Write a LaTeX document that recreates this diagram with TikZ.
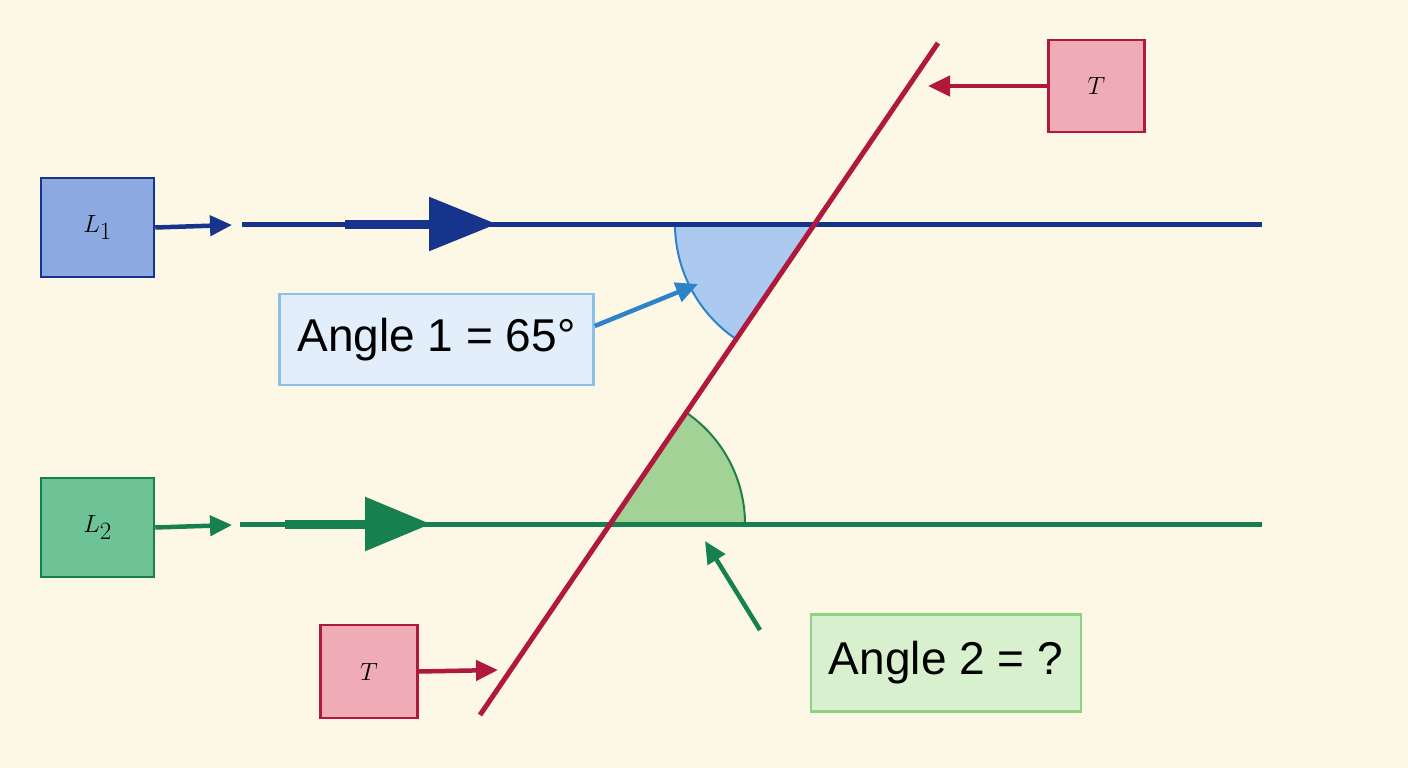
\documentclass[tikz,border=0pt]{standalone}
\usepackage{fontspec}
\setmainfont{Liberation Sans}
\usetikzlibrary{arrows.meta}
\definecolor{bgcream}{RGB}{253,248,230}
\definecolor{lineblue}{RGB}{22,52,140}
\definecolor{linegreen}{RGB}{22,128,78}
\definecolor{transred}{RGB}{176,24,62}
\definecolor{boxblue}{RGB}{140,170,225}
\definecolor{boxgreen}{RGB}{110,195,150}
\definecolor{boxpink}{RGB}{240,172,182}
\definecolor{angblue}{RGB}{172,202,240}
\definecolor{angblueedge}{RGB}{45,130,200}
\definecolor{anggreen}{RGB}{162,210,150}
\definecolor{anggreenedge}{RGB}{30,130,70}
\definecolor{lblblue}{RGB}{226,238,250}
\definecolor{lblblueedge}{RGB}{140,192,232}
\definecolor{lblgreen}{RGB}{216,240,206}
\definecolor{lblgreenedge}{RGB}{140,210,130}
\tikzset{every picture/.style={line width=0.75pt},
  tagbox/.style={draw, line width=2.5pt, minimum width=113pt, minimum height=99pt, inner sep=0pt, font=\fontsize{50}{50}\selectfont},
  lblbox/.style={draw, line width=2.5pt, inner xsep=18pt, minimum height=91pt, font=\fontsize{46}{46}\selectfont},
  ptr/.style={line width=4.5pt, -{Triangle[length=22pt,width=20pt]}}}
\begin{document}
\begin{tikzpicture}[x=1pt,y=1pt,yscale=-1,xscale=1]
\fill[bgcream] (0,0) rectangle (1408,768);

%Shape: Sectors
\filldraw[fill=angblue, draw=angblueedge, line width=2pt] (814,224) -- (675,224) arc[start angle=180, end angle=124.3, radius=139] -- cycle;
\filldraw[fill=anggreen, draw=anggreenedge, line width=2pt] (610,524) -- (745,524) arc[start angle=0, end angle=-55.7, radius=135] -- cycle;
\fill[angblue] (814,224) -- (677,226) -- (740,330) -- cycle;
\fill[anggreen] (610,524) -- (743,522) -- (686,412) -- cycle;

%Parallel lines
\coordinate (l1a) at (242,224); \coordinate (l1b) at (1262,224);
\coordinate (l2a) at (240,524); \coordinate (l2b) at (1262,524);
\draw[lineblue, line width=5pt] (l1a) -- (l1b);
\draw[lineblue, line width=9pt, -{Triangle[length=68pt,width=52pt]}] (345,224) -- (497,224);
\draw[linegreen, line width=5pt] (l2a) -- (l2b);
\draw[linegreen, line width=9pt, -{Triangle[length=66pt,width=52pt]}] (285,524) -- (431,524);

%Transversal
\coordinate (ta) at (480,715); \coordinate (tb) at (938,43);
\draw[transred, line width=5pt] (ta) -- (tb);

%Boxes
\node[tagbox, fill=boxblue, draw=lineblue] (boxL1) at (97.5,227.5) {$L_1$};
\node[tagbox, fill=boxgreen, draw=linegreen] (boxL2) at (97.5,527.5) {$L_2$};
\node[tagbox, fill=boxpink, draw=transred, minimum width=96pt, minimum height=92pt] (boxTt) at (1096.5,86) {$T$};
\node[tagbox, fill=boxpink, draw=transred, minimum width=97pt, minimum height=93pt] (boxTb) at (369,671.5) {$T$};
\node[lblbox, fill=lblblue, draw=lblblueedge] (ang1) at (436.5,339.5) {Angle 1 = 65°};
\node[lblbox, fill=lblgreen, draw=lblgreenedge, minimum height=97pt] (ang2) at (946,663) {Angle 2 = ?};

%Pointers
\coordinate (p1) at (232,225); \coordinate (p2) at (232,525);
\coordinate (p3) at (928,86); \coordinate (p4) at (498,670);
\coordinate (p5) at (698,284); \coordinate (p6) at (705,541);
\draw[ptr, lineblue] (boxL1.east) -- (p1);
\draw[ptr, linegreen] (boxL2.east) -- (p2);
\draw[ptr, transred] (boxTt.west) -- (p3);
\draw[ptr, transred] (boxTb.east) -- (p4);
\draw[ptr, angblueedge] (ang1.east |- 0,326) -- (p5);
\draw[ptr, linegreen] (760,630) -- (p6);
\end{tikzpicture}
\end{document}
